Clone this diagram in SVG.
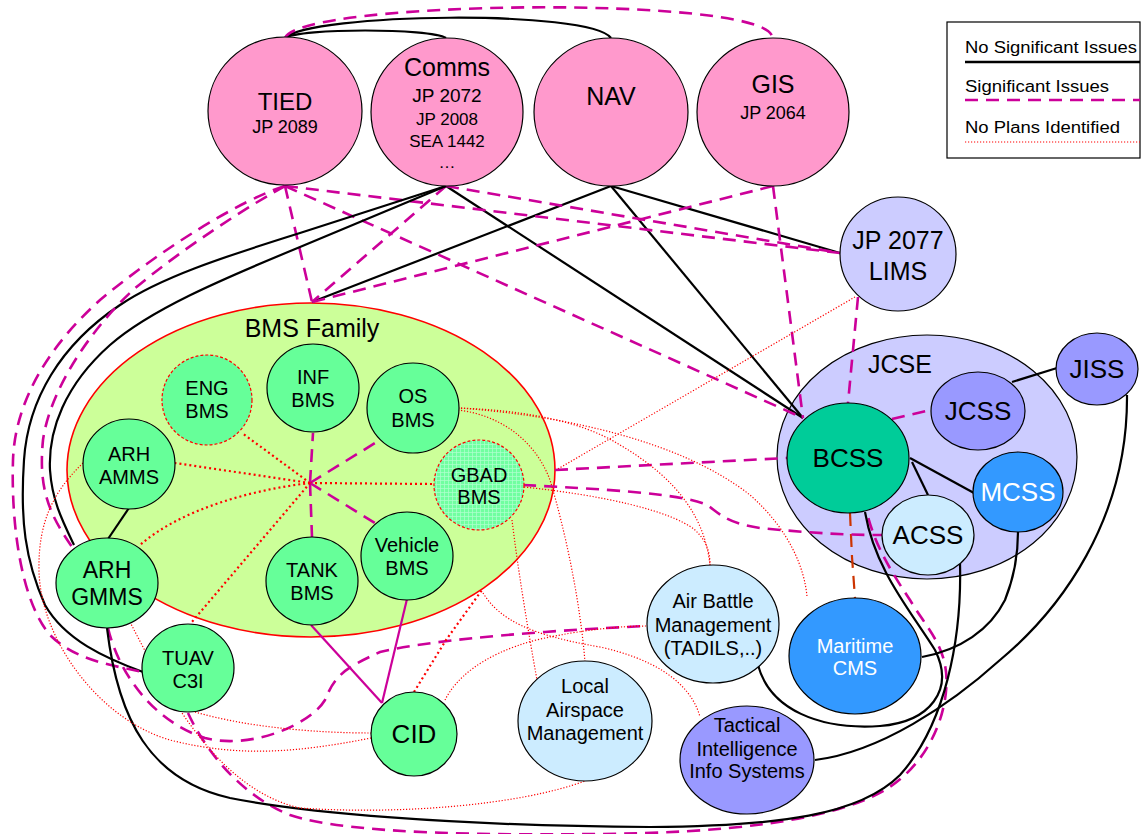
<svg xmlns="http://www.w3.org/2000/svg" width="1142" height="834" viewBox="0 0 1142 834">
<defs>
<pattern id="grid" width="4" height="4" patternUnits="userSpaceOnUse">
<rect width="4" height="4" fill="#70FFA0"/>
<path d="M0 0.5H4M0.5 0V4" stroke="#B0FFD0" stroke-width="0.7"/>
</pattern>
<style>
text{font-family:"Liberation Sans",Arial,sans-serif;fill:#000;text-anchor:middle}
.node{stroke:#000;stroke-width:1.2}
.pink{fill:#FF99CC}
.grn{fill:#66FF99}
.lav{fill:#CCCCFF}
.blu{fill:#9999FF}
.mid{fill:#3399FF}
.lt{fill:#CCECFF}
.tea{fill:#00CC99}
.rdash{stroke:#FF0000;stroke-dasharray:3 2}
.w{fill:#fff}
.s{fill:none;stroke:#000;stroke-width:2.2}
.d{fill:none;stroke:#CC0099;stroke-width:2.6;stroke-dasharray:13 8}
.o{fill:none;stroke:#CC3300;stroke-width:2.2;stroke-dasharray:13 8}
.m{fill:none;stroke:#CC0099;stroke-width:2.2}
.t{fill:none;stroke:#FF0000;stroke-width:1.2;stroke-dasharray:1.2 1.8}
.tb{fill:none;stroke:#FF0000;stroke-width:2.2;stroke-dasharray:2 3}
</style>
</defs>
<rect width="1142" height="834" fill="#fff"/>

<g id="legend">
<rect x="947" y="22" width="193" height="136" fill="#fff" stroke="#000" stroke-width="1.2"/>
<text x="965" y="53" font-size="16" style="text-anchor:start" textLength="172" lengthAdjust="spacingAndGlyphs">No Significant Issues</text>
<line x1="965" y1="62" x2="1140" y2="62" stroke="#000" stroke-width="2.5"/>
<text x="965" y="92" font-size="16" style="text-anchor:start" textLength="144" lengthAdjust="spacingAndGlyphs">Significant Issues</text>
<line x1="965" y1="100" x2="1140" y2="100" class="d"/>
<text x="965" y="133" font-size="16" style="text-anchor:start" textLength="155" lengthAdjust="spacingAndGlyphs">No Plans Identified</text>
<line x1="965" y1="142" x2="1140" y2="142" class="t"/>
</g>

<g id="bms-family">
<ellipse cx="311" cy="470" rx="244" ry="167" fill="#CCFF99" stroke="#FF0000" stroke-width="1.6"/>
<text x="312" y="337" font-size="25">BMS Family</text>
</g>
<g id="jcse">
<ellipse cx="927" cy="457" rx="150" ry="122" class="node lav"/>
<text x="900" y="373" font-size="25">JCSE</text>
</g>

<g id="connectors">
<!-- top arcs -->
<path class="s" d="M285,38 C300,28 430,28 446,38"/>
<path class="s" d="M285,38 C310,13 590,9 611,38"/>
<path class="d" d="M285,38 C300,0 760,-5 772,36"/>
<!-- from top nodes -->
<path class="s" d="M446,186 L803,418"/>
<path class="s" d="M611,186 L803,418"/>
<path class="s" d="M611,186 L312,302"/>
<path class="s" d="M611,186 L840,253"/>
<path class="d" d="M285,186 L312,302"/>
<path class="d" d="M285,186 L803,418"/>
<path class="d" d="M285,186 L840,253"/>
<path class="d" d="M446,186 L312,302"/>
<path class="d" d="M446,186 L840,253"/>
<path class="d" d="M773,186 L312,302"/>
<path class="d" d="M773,186 L803,418"/>
<path class="d" d="M858,297 L848,403"/>
<path class="t" d="M855,297 L556,470"/>
<!-- left side curves -->
<path class="s" d="M446,186 L300,233 C220,258 160,278 120,305 C60,345 28,400 24,460 C20,520 25,560 45,605 C65,640 105,658 143,672"/>
<path class="s" d="M446,186 L300,247 C220,280 150,310 110,345 C65,385 48,430 50,470 C52,500 62,520 74,545"/>
<path class="d" d="M285,186 C240,200 160,250 100,300 C50,345 15,400 13,460 C11,520 20,600 50,635 C75,660 110,665 143,672"/>
<path class="d" d="M285,186 C250,205 180,250 133,290 C90,330 50,390 43,440 C38,490 50,515 72,547"/>
<path class="d" d="M108,628 C118,670 150,720 205,738 C250,750 310,725 325,700 C335,675 345,668 380,652 C440,638 560,630 647,626"/>
<path class="d" d="M188,713 C205,750 240,795 290,815 C350,835 500,835 600,834 C720,833 830,822 885,790 C935,760 952,700 945,665 C940,640 925,625 910,600 C890,570 875,545 867,513"/>
<path class="s" d="M960,563 C962,640 945,725 900,775 C860,815 780,826 650,827 C450,826 300,812 230,798 C150,780 118,720 107,628"/>
<path class="s" d="M1127,395 C1128,520 1060,610 1000,660 C950,705 880,752 815,760"/>
<path class="s" d="M865,512 C875,570 910,610 935,650 C955,690 930,722 880,726 C820,730 770,710 758,665"/>
<path class="s" d="M922,657 C960,650 990,630 1005,600 C1015,575 1018,555 1018,532"/>
<path class="o" d="M850,513 L852,557 L855,598"/>
<!-- JCSE internal -->
<path class="d" d="M892,419 L931,410"/>
<path class="s" d="M1012,382 L1057,368"/>
<path class="s" d="M910,458 L974,493"/>
<path class="s" d="M912,462 L928,495"/>
<!-- BMS family to JCSE -->
<path class="d" d="M555,470 L787,458"/>
<path class="d" d="M523,485 C600,489 680,493 707,505 C718,512 725,523 760,528 C800,532 840,535 882,535"/>
<!-- hub -->
<path class="tb" d="M310,483 L242,433"/>
<path class="d" d="M310,483 L313,433"/>
<path class="d" d="M310,483 L380,440"/>
<path class="tb" d="M310,483 L175,463"/>
<path class="tb" d="M310,483 L433,484"/>
<path class="d" d="M310,483 L375,523"/>
<path class="d" d="M310,483 L312,537"/>
<path class="tb" d="M310,483 C250,490 180,510 140,545"/>
<path class="tb" d="M310,483 L191,623"/>
<path class="s" d="M129,508 L108,539"/>
<path class="m" d="M311,625 L382,703"/>
<path class="m" d="M407,599 L382,703"/>
<path class="tb" d="M414,692 L446,640 L482,590"/>
<!-- dotted -->
<path class="t" d="M83,463 C55,490 38,520 39,570 C40,640 100,720 170,740 C240,758 300,752 371,738"/>
<path class="t" d="M195,712 C250,728 320,733 371,733"/>
<path class="t" d="M130,622 C170,700 220,790 300,808 C400,815 520,805 585,781"/>
<path class="t" d="M445,700 C455,680 480,655 536,640 C580,630 620,626 647,626"/>
<path class="t" d="M483,593 C500,620 530,635 600,647 C650,658 690,680 700,717"/>
<path class="t" d="M458,408 C520,410 580,420 620,445 C680,480 705,520 710,565"/>
<path class="t" d="M458,408 C560,415 680,440 750,495 C790,530 805,570 807,597"/>
<path class="t" d="M458,410 C500,415 535,440 550,480 C565,530 580,600 585,662"/>
<path class="t" d="M512,520 C518,570 528,630 537,680"/>
<path class="t" d="M524,487 C600,495 670,510 695,530 C708,542 710,555 710,565"/>
</g>

<g id="tied"><ellipse cx="285" cy="111" rx="77" ry="74" class="node pink"/>
<text x="285" y="110" font-size="24">TIED</text><text x="285" y="133" font-size="18">JP 2089</text></g>
<g id="comms"><ellipse cx="447" cy="112" rx="76" ry="74" class="node pink"/>
<text x="447" y="76" font-size="25">Comms</text><text x="447" y="102" font-size="19">JP 2072</text><text x="447" y="125" font-size="17">JP 2008</text><text x="447" y="147" font-size="17">SEA 1442</text><text x="447" y="168" font-size="17">…</text></g>
<g id="nav"><ellipse cx="611" cy="112" rx="77" ry="74" class="node pink"/>
<text x="611" y="105" font-size="25">NAV</text></g>
<g id="gis"><ellipse cx="773" cy="112" rx="76" ry="74" class="node pink"/>
<text x="773" y="93" font-size="25">GIS</text><text x="773" y="119" font-size="18">JP 2064</text></g>
<g id="lims"><ellipse cx="898" cy="254" rx="58" ry="57" class="node lav"/>
<text x="898" y="249" font-size="25">JP 2077</text><text x="898" y="280" font-size="25">LIMS</text></g>

<g id="eng-bms"><circle cx="207" cy="400" r="45" class="grn rdash" stroke-width="1.2"/>
<text x="207" y="395" font-size="20">ENG</text><text x="207" y="418" font-size="20">BMS</text></g>
<g id="inf-bms"><ellipse cx="313" cy="388" rx="46" ry="44" class="node grn"/>
<text x="313" y="384" font-size="20">INF</text><text x="313" y="407" font-size="20">BMS</text></g>
<g id="os-bms"><ellipse cx="413" cy="408" rx="46" ry="45" class="node grn"/>
<text x="413" y="403" font-size="20">OS</text><text x="413" y="427" font-size="20">BMS</text></g>
<g id="arh-amms"><ellipse cx="129" cy="464" rx="46" ry="45" class="node grn"/>
<text x="129" y="461" font-size="20">ARH</text><text x="129" y="484" font-size="20">AMMS</text></g>
<g id="gbad-bms"><circle cx="479" cy="485" r="45" fill="url(#grid)" class="rdash" stroke-width="1.2"/>
<text x="479" y="482" font-size="20">GBAD</text><text x="479" y="504" font-size="20">BMS</text></g>
<g id="vehicle-bms"><ellipse cx="407" cy="556" rx="46" ry="44" class="node grn"/>
<text x="407" y="552" font-size="20">Vehicle</text><text x="407" y="575" font-size="20">BMS</text></g>
<g id="tank-bms"><ellipse cx="312" cy="581" rx="46" ry="44" class="node grn"/>
<text x="312" y="577" font-size="20">TANK</text><text x="312" y="600" font-size="20">BMS</text></g>
<g id="arh-gmms"><ellipse cx="107" cy="583" rx="51" ry="45" class="node grn"/>
<text x="107" y="578" font-size="23">ARH</text><text x="107" y="605" font-size="23">GMMS</text></g>
<g id="tuav"><ellipse cx="188" cy="668" rx="46" ry="44" class="node grn"/>
<text x="188" y="665" font-size="20">TUAV</text><text x="188" y="688" font-size="20">C3I</text></g>
<g id="cid"><ellipse cx="414" cy="734" rx="43" ry="42" class="node grn"/>
<text x="414" y="743" font-size="26">CID</text></g>

<g id="bcss"><ellipse cx="848" cy="458" rx="61" ry="55" class="node tea"/>
<text x="848" y="467" font-size="26">BCSS</text></g>
<g id="jcss"><ellipse cx="978" cy="411" rx="47" ry="39" class="node blu"/>
<text x="978" y="420" font-size="26">JCSS</text></g>
<g id="jiss"><ellipse cx="1097" cy="369" rx="41" ry="36" class="node blu"/>
<text x="1097" y="378" font-size="26">JISS</text></g>
<g id="mcss"><ellipse cx="1018" cy="492" rx="45" ry="40" class="node mid"/>
<text x="1018" y="501" font-size="26" class="w" style="fill:#fff">MCSS</text></g>
<g id="acss"><ellipse cx="928" cy="535" rx="46" ry="40" class="node lt"/>
<text x="928" y="544" font-size="26">ACSS</text></g>
<g id="maritime-cms"><ellipse cx="855" cy="656" rx="66" ry="58" class="node mid"/>
<text x="855" y="653" font-size="20" style="fill:#fff">Maritime</text><text x="855" y="675" font-size="20" style="fill:#fff">CMS</text></g>
<g id="air-battle"><ellipse cx="713" cy="624" rx="66" ry="59" class="node lt"/>
<text x="713" y="608" font-size="20">Air Battle</text><text x="713" y="632" font-size="20">Management</text><text x="713" y="655" font-size="20">(TADILS,..)</text></g>
<g id="local-airspace"><ellipse cx="585" cy="721" rx="67" ry="60" class="node lt"/>
<text x="585" y="693" font-size="20">Local</text><text x="585" y="717" font-size="20">Airspace</text><text x="585" y="740" font-size="20">Management</text></g>
<g id="tiis"><ellipse cx="747" cy="760" rx="67" ry="54" class="node blu"/>
<text x="747" y="732" font-size="20">Tactical</text><text x="747" y="756" font-size="20">Intelligence</text><text x="747" y="778" font-size="20">Info Systems</text></g>
</svg>
